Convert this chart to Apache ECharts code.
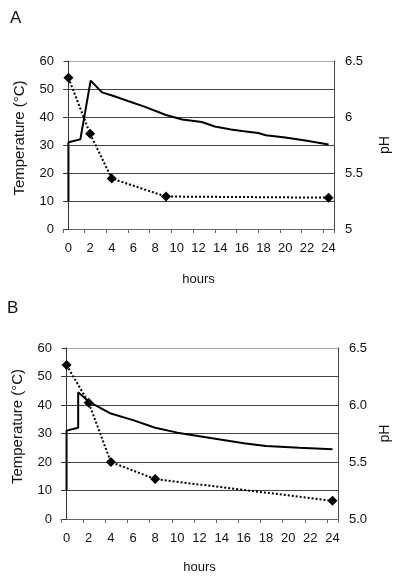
<!DOCTYPE html>
<html>
<head>
<meta charset="utf-8">
<script src="https://cdn.jsdelivr.net/npm/echarts@6/dist/echarts.min.js"></script>
<style>html,body{margin:0;padding:0;background:#fff}#c{width:400px;height:578px}</style>
</head>
<body>
<div id="c"></div>
<script>
// ---- data ----
var hourLabels = ['0','1','2','3','4','5','6','7','8','9','10','11','12','13','14','15','16','17','18','19','20','21','22','23','24'];
var tempTicks = [0, 10, 20, 30, 40, 50, 60];
var phTicks = [5, 5.5, 6, 6.5];

var tempHoursA = [0, 0, 1.1, 2.05, 3.1, 4.1, 5.5, 7, 9, 10.5, 12.3, 13.5, 15, 16, 17.5, 18.2, 20, 22, 24];
var tempA      = [10, 31, 32, 53, 48.8, 47.6, 45.7, 43.7, 40.7, 39.1, 38.2, 36.6, 35.5, 35, 34.3, 33.5, 32.7, 31.5, 30.2];
var phHoursA = [0, 2, 4, 9, 24];
var phA      = [6.35, 5.85, 5.45, 5.29, 5.28];

var tempHoursB = [0, 0, 1.05, 1.05, 2, 4, 6, 8, 10, 12, 14, 16, 18, 21, 24];
var tempB      = [10, 31, 32, 44.5, 41.2, 37, 34.7, 32, 30.3, 29, 27.8, 26.6, 25.6, 25, 24.5];
var phHoursB = [0, 2, 4, 8, 24];
var phB      = [6.35, 6.02, 5.5, 5.35, 5.16];

function pairs(xs, ys) { return xs.map(function (x, i) { return [x, ys[i]]; }); }

var FONT = 'Liberation Sans, Arial, sans-serif';
var TXT = '#111';

function catAxis(gi, gap) {
  return {
    type: 'category', gridIndex: gi, data: hourLabels, boundaryGap: true,
    axisLine: { show: true, lineStyle: { color: '#666', width: 1 } },
    axisTick: { show: true, interval: 1, length: 4, lineStyle: { color: '#666' } },
    axisLabel: { interval: 1, margin: 13, fontSize: 13, color: TXT, fontFamily: FONT },
    name: 'hours', nameLocation: 'middle', nameGap: gap,
    nameTextStyle: { fontSize: 13, color: TXT, fontFamily: FONT },
    splitLine: { show: false }
  };
}
function valX(gi) {
  return { type: 'value', gridIndex: gi, min: -0.5, max: 24.5, show: false };
}
function leftY(gi) {
  return {
    type: 'value', gridIndex: gi, min: tempTicks[0], max: tempTicks[tempTicks.length - 1], interval: 10,
    position: 'left',
    axisLine: { show: true, lineStyle: { color: '#333', width: 1 } },
    axisTick: { show: true, length: 4, lineStyle: { color: '#333' } },
    axisLabel: { margin: 9, fontSize: 13, color: TXT, fontFamily: FONT },
    splitLine: { show: true, lineStyle: { color: ['#444','#444','#444','#444','#444','#444','#aaa'], width: 1 } },
    name: 'Temperature (°C)', nameLocation: 'middle', nameGap: 36, nameRotate: 90,
    nameTextStyle: { fontSize: 15, color: TXT, fontFamily: FONT, padding: [0, 0, 0, 14] }
  };
}
function rightY(gi, fmt, gap) {
  return {
    type: 'value', gridIndex: gi, min: phTicks[0], max: phTicks[phTicks.length - 1], interval: 0.5,
    position: 'right',
    axisLine: { show: true, lineStyle: { color: '#444', width: 1 } },
    axisTick: { show: false },
    axisLabel: { margin: 11, fontSize: 13, color: TXT, fontFamily: FONT, formatter: fmt },
    splitLine: { show: false },
    name: 'pH', nameLocation: 'middle', nameGap: gap, nameRotate: 90,
    nameTextStyle: { fontSize: 14, color: TXT, fontFamily: FONT }
  };
}
function tempSeries(xi, yi, data) {
  return { type: 'line', xAxisIndex: xi, yAxisIndex: yi, data: data, symbol: 'none',
    lineStyle: { color: '#000', width: 2 }, z: 3, animation: false };
}
function phSeries(xi, yi, data) {
  return { type: 'line', xAxisIndex: xi, yAxisIndex: yi, data: data, symbol: 'diamond', symbolSize: 10,
    itemStyle: { color: '#000' }, lineStyle: { color: '#000', width: 2, type: [2, 2] }, z: 4, animation: false };
}

var chart = echarts.init(document.getElementById('c'), null, { renderer: 'canvas' });
chart.setOption({
  animation: false,
  backgroundColor: '#fff',
  title: [
    { text: 'A', left: 5, top: 5, textStyle: { fontSize: 17, fontWeight: 'normal', color: TXT, fontFamily: FONT } },
    { text: 'B', left: 2, top: 295, textStyle: { fontSize: 17, fontWeight: 'normal', color: TXT, fontFamily: FONT } }
  ],
  grid: [
    { left: 63, right: 57, top: 61, height: 168 },
    { left: 61, right: 58, top: 348, height: 171 }
  ],
  xAxis: [catAxis(0, 44), valX(0), catAxis(1, 42), valX(1)],
  yAxis: [leftY(0), rightY(0, null, 44), leftY(1), rightY(1, function (v) { return v.toFixed(1); }, 37)],
  series: [
    tempSeries(1, 0, pairs(tempHoursA, tempA)),
    phSeries(1, 1, pairs(phHoursA, phA)),
    tempSeries(3, 2, pairs(tempHoursB, tempB)),
    phSeries(3, 3, pairs(phHoursB, phB))
  ]
});
</script>
</body>
</html>
